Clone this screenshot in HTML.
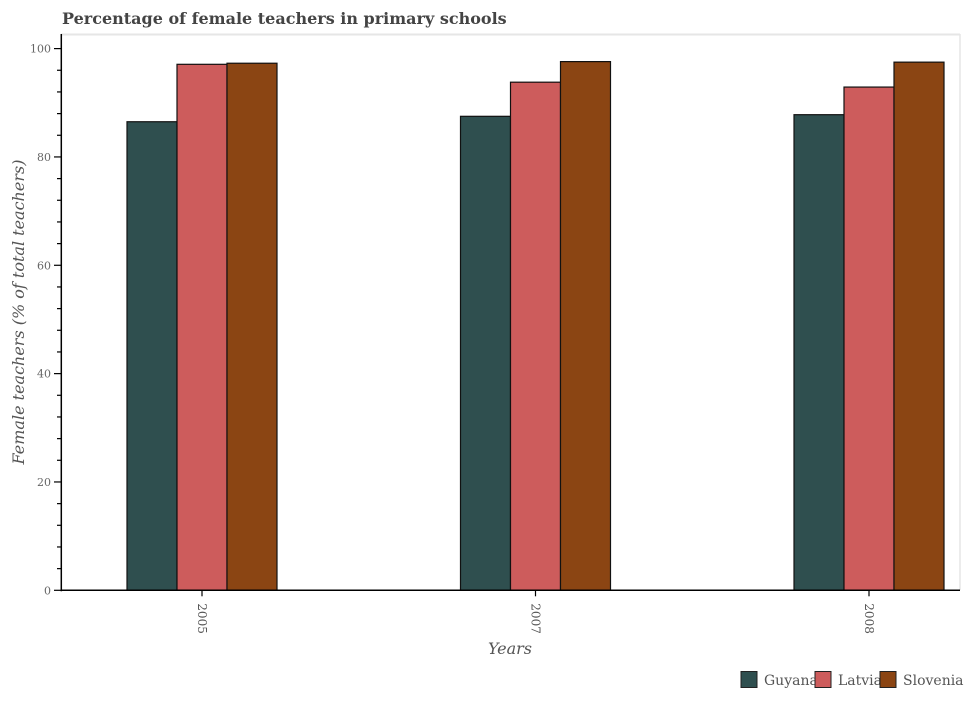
<!DOCTYPE html>
<html><head><meta charset="utf-8"><style>
html,body{margin:0;padding:0;background:#fff;}
svg text{font-family:"DejaVu Serif","Liberation Serif",serif;}
</style></head><body>
<svg id="chart" width="965" height="700" xmlns="http://www.w3.org/2000/svg">
<text x="62" y="24" font-size="16" font-weight="bold" fill="#444">Percentage of female teachers in primary schools</text>
<line x1="61" y1="34.5" x2="960" y2="34.5" stroke="#e6e6e6" stroke-width="2"/>
<line x1="960" y1="34" x2="960" y2="590" stroke="#e6e6e6" stroke-width="1.5"/>
<g id="bars"></g>
<g id="yaxis"></g>
<g id="xaxis"></g>
<text transform="translate(24,312) rotate(-90)" text-anchor="middle" font-size="16" font-style="italic" fill="#555">Female teachers (% of total teachers)</text>
<text x="510" y="654" text-anchor="middle" font-size="16" font-style="italic" fill="#555">Years</text>
<g id="legend"></g>
</svg>
<script>
const years = ["2005","2007","2008"];
const seriesNames = ["Guyana","Latvia","Slovenia"];
const guyana = [86.5, 87.5, 87.8];
const latvia = [97.1, 93.8, 92.9];
const slovenia = [97.3, 97.6, 97.5];
const yTicks = [0,20,40,60,80,100];

const colors = ["#2f4f4f","#cd5c5c","#8b4513"];
const allSeries = [guyana, latvia, slovenia];
const NS = "http://www.w3.org/2000/svg";
const y0 = 590.3, yScale = 5.417;
function yPos(v){ return y0 - v*yScale; }
function xCenter(i){ return 202 + 333.5*i; }
const bw = 50;
function mk(tag, attrs, parent){ const e=document.createElementNS(NS,tag); for(const k in attrs) e.setAttribute(k, attrs[k]); parent.appendChild(e); return e; }

const bars = document.getElementById('bars');
allSeries.forEach((s, si) => {
  s.forEach((v, i) => {
    const x = xCenter(i) - 1.5*bw + si*bw;
    const r = mk('rect', {x:x, y:yPos(v), width:bw, height:y0-yPos(v), fill:colors[si], stroke:'#111', 'stroke-width':1.2}, bars);
    
    
  });
});

const ya = document.getElementById('yaxis');
mk('line', {x1:61.3, y1:34, x2:61.3, y2:y0+1, stroke:'#000', 'stroke-width':1.5}, ya);
for (let v=0; v<=100; v+=4) {
  const major = v % 20 === 0;
  mk('line', {x1: major?54:57, y1:yPos(v), x2:61.3, y2:yPos(v), stroke:'#000', 'stroke-width':1.2}, ya);
}
yTicks.forEach(v => {
  const t = mk('text', {x:51, y:yPos(v)+4, 'text-anchor':'end', 'font-size':11, fill:'#666'}, ya);
  t.textContent = v;
  
  
});

const xa = document.getElementById('xaxis');
mk('line', {x1:61, y1:y0, x2:960, y2:y0, stroke:'#000', 'stroke-width':1.5}, xa);
years.forEach((yr, i) => {
  const cx = xCenter(i);
  mk('line', {x1:cx, y1:y0, x2:cx, y2:y0+6, stroke:'#000', 'stroke-width':1.2}, xa);
  const t = mk('text', {transform:`translate(${cx-4},${y0+13}) rotate(90)`, 'font-size':12, fill:'#555'}, xa);
  t.textContent = yr;
  
  
});

const lg = document.getElementById('legend');
const lx = [741, 815, 880];
seriesNames.forEach((n, i) => {
  const g = mk('g', {}, lg);
  
  
  mk('rect', {x:lx[i], y:671.5, width:16, height:16, fill:colors[i], stroke:'#222', 'stroke-width':1}, g);
  const t = mk('text', {x:lx[i]+23, y:685, 'font-size':14, fill:'#555'}, g);
  t.textContent = n;
});
</script>
</body></html>
